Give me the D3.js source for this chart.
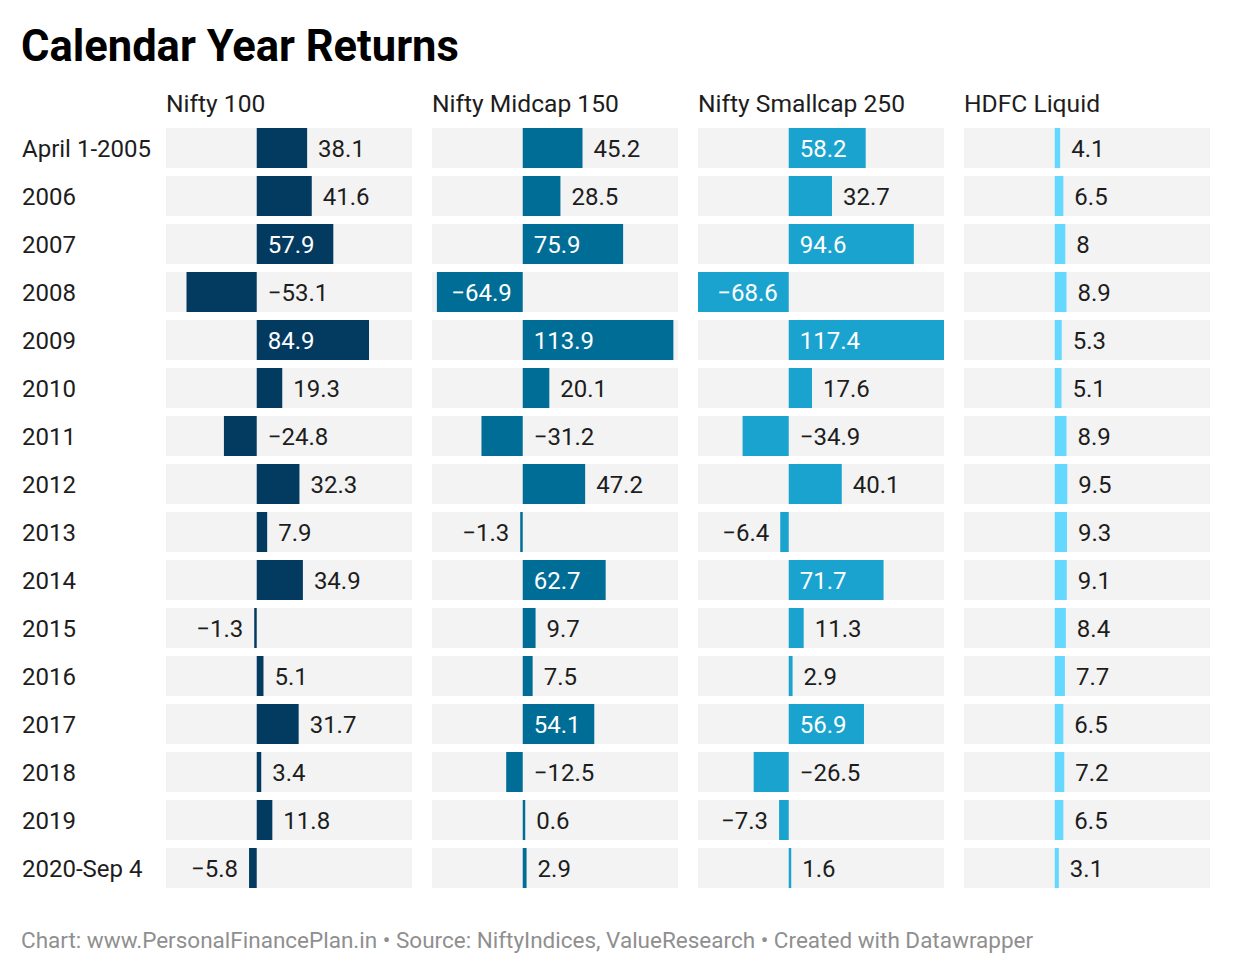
<!DOCTYPE html>
<html>
<head>
<meta charset="utf-8">
<script src="https://cdn.jsdelivr.net/npm/d3@7"></script>
<style>
  html, body { margin: 0; padding: 0; background: #fff; }
  svg text { font-family: Roboto, "Noto Sans", sans-serif; }
</style>
</head>
<body>
<svg id="chart" width="1240" height="974"></svg>
<script>
const title = "Calendar Year Returns";
const footer = "Chart: www.PersonalFinancePlan.in \u2022 Source: NiftyIndices, ValueResearch \u2022 Created with Datawrapper";
const categories = ["April 1-2005","2006","2007","2008","2009","2010","2011","2012","2013","2014","2015","2016","2017","2018","2019","2020-Sep 4"];
const seriesNames = ["Nifty 100","Nifty Midcap 150","Nifty Smallcap 250","HDFC Liquid"];
const nifty100 = [38.1,41.6,57.9,-53.1,84.9,19.3,-24.8,32.3,7.9,34.9,-1.3,5.1,31.7,3.4,11.8,-5.8];
const midcap150 = [45.2,28.5,75.9,-64.9,113.9,20.1,-31.2,47.2,-1.3,62.7,9.7,7.5,54.1,-12.5,0.6,2.9];
const smallcap250 = [58.2,32.7,94.6,-68.6,117.4,17.6,-34.9,40.1,-6.4,71.7,11.3,2.9,56.9,-26.5,-7.3,1.6];
const hdfcLiquid = [4.1,6.5,8,8.9,5.3,5.1,8.9,9.5,9.3,9.1,8.4,7.7,6.5,7.2,6.5,3.1];
const seriesColors = ["#033a60","#006d97","#1ba3cf","#64d8fe"];

const seriesValues = [nifty100, midcap150, smallcap250, hdfcLiquid];

const svg = d3.select("#chart");

svg.append("text").attr("x", 21).attr("y", 61)
  .attr("font-size", 43.5).attr("font-weight", 700).attr("fill", "#000")
  .text(title);

const panelLeft0 = 166, panelW = 246, panelGap = 20;
const rowsTop = 128, rowStep = 48, rowH = 40;

const yScale = d3.scaleBand().domain(categories)
  .range([rowsTop, rowsTop + rowStep * categories.length - (rowStep - rowH)])
  .paddingInner((rowStep - rowH) / rowStep).paddingOuter(0);
const yPos = c => yScale(c);

const allVals = seriesValues.flat();
const domain = [d3.min(allVals), d3.max(allVals)];

const fs = 24;
const pad = 11;

// row labels
svg.append("g").selectAll("text").data(categories).join("text")
  .attr("x", 22).attr("y", c => yPos(c) + yScale.bandwidth() / 2)
  .attr("dy", "0.36em").attr("font-size", fs).attr("fill", "#1d1d1d")
  .text(d => d);

const fmt = v => (v < 0 ? "\u2212" : "") + String(Math.abs(v));

seriesNames.forEach((name, si) => {
  const left = panelLeft0 + si * (panelW + panelGap);
  const x = d3.scaleLinear().domain(domain).range([left, left + panelW]);
  const g = svg.append("g");
  g.append("text").attr("x", left).attr("y", 112)
    .attr("font-size", 24.6).attr("fill", "#1d1d1d").text(name);
  const data = seriesValues[si].map((v, i) => ({ c: categories[i], v }));
  g.selectAll("rect.bg").data(data).join("rect").attr("class", "bg")
    .attr("x", left).attr("width", panelW)
    .attr("y", d => yPos(d.c)).attr("height", yScale.bandwidth())
    .attr("fill", "#f3f3f3");
  const minW = 2.5;
  const bw = d => Math.max(Math.abs(x(d.v) - x(0)), minW);
  const bx = d => d.v < 0 ? x(0) - bw(d) : x(0);
  g.selectAll("rect.bar").data(data).join("rect").attr("class", "bar")
    .attr("x", bx).attr("width", bw)
    .attr("y", d => yPos(d.c)).attr("height", yScale.bandwidth())
    .attr("fill", seriesColors[si]);
  const labels = g.selectAll("text.val").data(data).join("text").attr("class", "val")
    .attr("font-size", fs)
    .attr("y", d => yPos(d.c) + yScale.bandwidth() / 2).attr("dy", "0.36em")
    .text(d => fmt(d.v));
  labels.each(function(d) {
    const t = d3.select(this);
    const tw = this.getComputedTextLength();
    const w = bw(d);
    if (w >= tw + 2 * pad) {
      t.attr("fill", "#fff");
      if (d.v >= 0) t.attr("x", x(0) + pad).attr("text-anchor", "start");
      else t.attr("x", x(0) - pad).attr("text-anchor", "end");
    } else {
      t.attr("fill", "#1d1d1d");
      if (d.v >= 0) {
        t.attr("x", x(0) + w + pad).attr("text-anchor", "start");
      } else {
        const leftSpace = bx(d) - left;
        if (leftSpace >= tw + 2 * pad) t.attr("x", bx(d) - pad).attr("text-anchor", "end");
        else t.attr("x", x(0) + pad).attr("text-anchor", "start");
      }
    }
  });
});

svg.append("text").attr("x", 21).attr("y", 948)
  .attr("font-size", 22.5).attr("fill", "#8f8f8f").text(footer);
</script>
</body>
</html>
